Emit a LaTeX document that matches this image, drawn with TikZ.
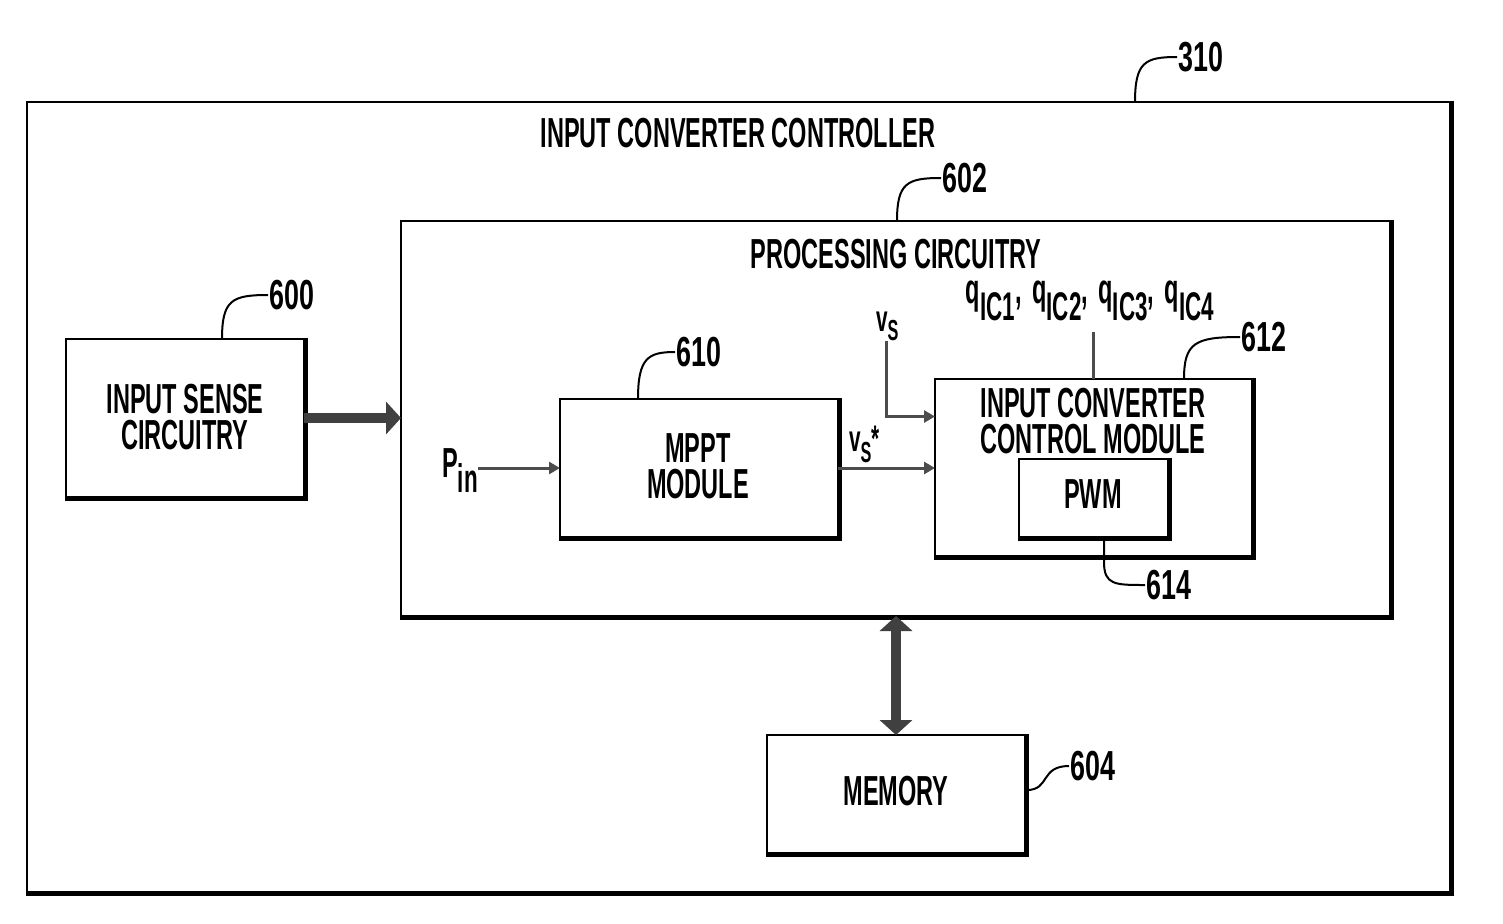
\documentclass[tikz,border=0pt]{standalone}
\usepackage{fontspec}
\setmainfont[FakeStretch=0.56]{Liberation Sans}
\newfontfamily\numfont[FakeStretch=0.64]{Liberation Sans}
\usetikzlibrary{arrows.meta,calc}
% \lowsub{font size}{lowering}{text}
\newcommand{\lowsub}[3]{\raisebox{-#2pt}{\fontsize{#1}{#1}\selectfont #3}}
\begin{document}
\begin{tikzpicture}[x=1pt,y=-1pt,
  box/.style={draw, line width=2pt, outer sep=0pt, anchor=north west, inner sep=0pt},
  txt/.style={font=\fontsize{42}{36}\selectfont\bfseries, inner sep=0pt, align=center},
  line/.style={txt, anchor=base},
  num/.style={font=\numfont\fontsize{42}{42}\selectfont\bfseries, inner sep=1pt, anchor=west},
  shadowedge/.style={line width=5pt},
  leader/.style={line width=2pt},
  bigarrow/.style={line width=10pt, black!75, -{Triangle[length=15pt,width=32pt]}},
  bigdouble/.style={line width=10pt, black!75, {Triangle[length=15pt,width=32pt]}-{Triangle[length=15pt,width=32pt]}},
  sig/.style={line width=3pt, black!70, -{Triangle[length=11pt,width=12pt]}},
]
\useasboundingbox (0,0) rectangle (1503,923);
\fill[white] (0,0) rectangle (1503,923);

% boxes
\node[box, minimum width=1423pt, minimum height=790pt] (outer) at (27,102) {};
\node[box, minimum width=989pt, minimum height=395pt] (proc) at (401,221) {};
\node[box, minimum width=238pt, minimum height=158pt] (sense) at (66,339) {};
\node[box, minimum width=278pt, minimum height=138pt] (mppt) at (560,399) {};
\node[box, minimum width=317pt, minimum height=177pt] (icc) at (935,379) {};
\node[box, minimum width=149pt, minimum height=78pt] (pwm) at (1019,459) {};
\node[box, minimum width=258pt, minimum height=118pt] (mem) at (767,735) {};
\foreach \n in {outer,proc,sense,mppt,icc,pwm,mem}
  \draw[shadowedge] ($(\n.north east)+(1.5,-1)$) -- ($(\n.south east)+(1.5,1.5)$) -- ($(\n.south west)+(-1,1.5)$);

% texts
\node[txt] (ttl) at (738,133) {INPUT CONVERTER CONTROLLER};
\node[txt] (ptl) at (896,254) {PROCESSING CIRCUITRY};
\node[line] (stxta) at (185,413) {INPUT SENSE};
\node[line] (stxtb) at (185,449) {CIRCUITRY};
\node[line] (mtxta) at (698,462) {MPPT};
\node[line] (mtxtb) at (698,498) {MODULE};
\node[line] (itxta) at (1093,417) {INPUT CONVERTER};
\node[line] (itxtb) at (1093,453) {CONTROL MODULE};
\node[txt] (ptxt) at (1093,494) {PWM};
\node[txt] (metxt) at (896,791) {MEMORY};

% reference numbers
\node[num] (l310) at (1177,57) {310};
\node[num] (l602) at (941,178) {602};
\node[num] (l600) at (268,295) {600};
\node[num] (l610) at (675,352) {610};
\node[num] (l612) at (1240,337) {612};
\node[num] (l614) at (1145,585) {614};
\node[num] (l604) at (1069,766) {604};
\coordinate (c310) at (1135,102);
\coordinate (c602) at (897,221);
\coordinate (c600) at (222,339);
\coordinate (c610) at (638,399);
\coordinate (c612) at (1184,379);
\coordinate (c614) at (1104,537);
\coordinate (c604) at (1027,790);
\draw[leader] (c310) .. controls (1135,62) and (1145,57) .. (l310.west);
\draw[leader] (c602) .. controls (897,183) and (907,178) .. (l602.west);
\draw[leader] (c600) .. controls (222,300) and (232,295) .. (l600.west);
\draw[leader] (c610) .. controls (638,358) and (648,352) .. (l610.west);
\draw[leader] (c612) .. controls (1184,343) and (1195,337) .. (l612.west);
\draw[leader] (c614) -- (1104,562) .. controls (1104,585) and (1115,585) .. (l614.west);
\draw[leader] (c604) .. controls (1050,790) and (1040,766) .. (l604.west);

% signals
\node[txt, anchor=base east] (pin) at (478,477) {P\lowsub{40}{15}{in}};
\draw[sig] (pin.east |- mppt.west) -- (mppt.west);
\node[txt, anchor=base west] (vss) at (849,451) {\fontsize{37}{37}\selectfont v\lowsub{29}{11}{S}*};
\draw[sig] (mppt.east) -- (mppt.east -| icc.west);
\node[txt, anchor=base west] (vs) at (876,331) {\fontsize{37}{37}\selectfont v\lowsub{29}{9}{S}};
\coordinate (vsstart) at (886,341);
\draw[sig] (vsstart) |- ($(icc.west)+(0,-51)$);
\node[txt, anchor=base] (q) at (1090,303) {\fontsize{42}{42}\selectfont q\lowsub{40}{17}{IC1},\hspace{4pt} q\lowsub{40}{17}{IC2},\hspace{4pt} q\lowsub{40}{17}{IC3},\hspace{4pt} q\lowsub{40}{17}{IC4}};
\coordinate (qstart) at ($(icc.north)+(0,-47)$);
\draw[line width=2.5pt, black!70] (qstart) -- (icc.north);

% big arrows
\draw[bigarrow] (sense.east) -- (sense.east -| proc.west);
\draw[bigdouble] (mem.north |- proc.south) -- (mem.north);
\end{tikzpicture}
\end{document}
